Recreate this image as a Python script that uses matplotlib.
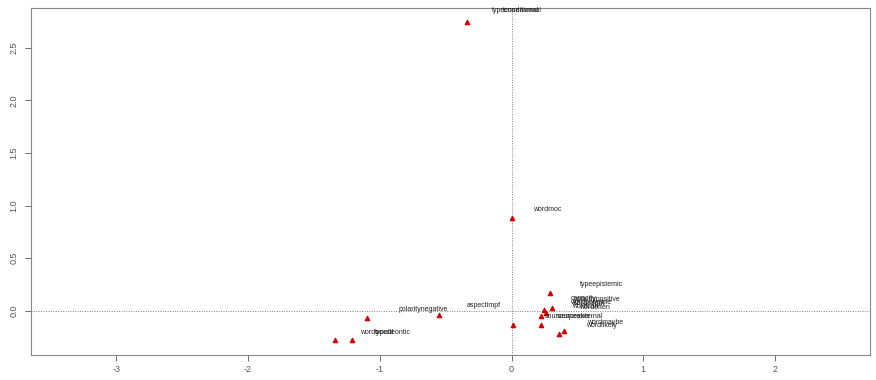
import numpy as np
import matplotlib.pyplot as plt

plt.rcParams['font.family'] = ['Liberation Sans', 'DejaVu Sans']

# point coordinates (red triangles)
pt_x = [-0.34, 0.00, 0.29, 0.25, 0.26, 0.31, 0.22, 0.01, 0.22, 0.36, 0.40, -0.55, -1.10, -1.34, -1.21]
pt_y = [2.75, 0.88, 0.17, 0.01, -0.02, 0.03, -0.05, -0.14, -0.14, -0.22, -0.19, -0.04, -0.07, -0.28, -0.28]

# category labels and where they sit
labels = ["typeconditional", "tensenormal", "wordmoc", "typeepistemic",
          "capacity", "polaritypositive", "wordpossible", "wordmight",
          "wordcan", "wordoften", "sourcespeaker", "sourceexternal",
          "wordmaybe", "wordlikely", "polaritynegative", "aspectimpf",
          "wordwould", "typedeontic"]
lab_x = [0.03, 0.08, 0.27, 0.68, 0.55, 0.65, 0.60, 0.58, 0.56, 0.63, 0.43, 0.52,
         0.71, 0.68, -0.67, -0.21, -1.02, -0.90]
lab_y = [2.86, 2.86, 0.96, 0.25, 0.12, 0.11, 0.08, 0.07, 0.04, 0.03, -0.05, -0.05,
         -0.11, -0.14, 0.01, 0.05, -0.21, -0.21]

plt.figure(figsize=(8.76, 3.8), dpi=100)
ax = plt.axes([0.035, 0.066, 0.958, 0.913])
ax.scatter(pt_x, pt_y, marker="^", s=9, color="#d40000", zorder=3)
for t, x, y in zip(labels, lab_x, lab_y):
    ax.text(x, y, t, fontsize=5, ha="center", va="center", color="#222222")

ax.axhline(0, color="gray", linestyle=(0, (1, 1.5)), linewidth=0.7)
ax.axvline(0, color="gray", linestyle=(0, (1, 1.5)), linewidth=0.7)

ax.set_xlim(-3.65, 2.72)
ax.set_ylim(-0.42, 2.88)
ax.set_xticks([-3, -2, -1, 0, 1, 2])
ax.set_xticklabels(["-3", "-2", "-1", "0", "1", "2"])
ax.set_yticks([0.0, 0.5, 1.0, 1.5, 2.0, 2.5])
ax.set_yticklabels(["0.0", "0.5", "1.0", "1.5", "2.0", "2.5"], rotation=90, va="center")
ax.tick_params(labelsize=6.5, colors="#555555", length=4, width=0.6, pad=5)
ax.tick_params(axis="x", pad=3)
for s in ax.spines.values():
    s.set_color("#888888")
    s.set_linewidth(0.8)

plt.savefig("out.png", dpi=100)
